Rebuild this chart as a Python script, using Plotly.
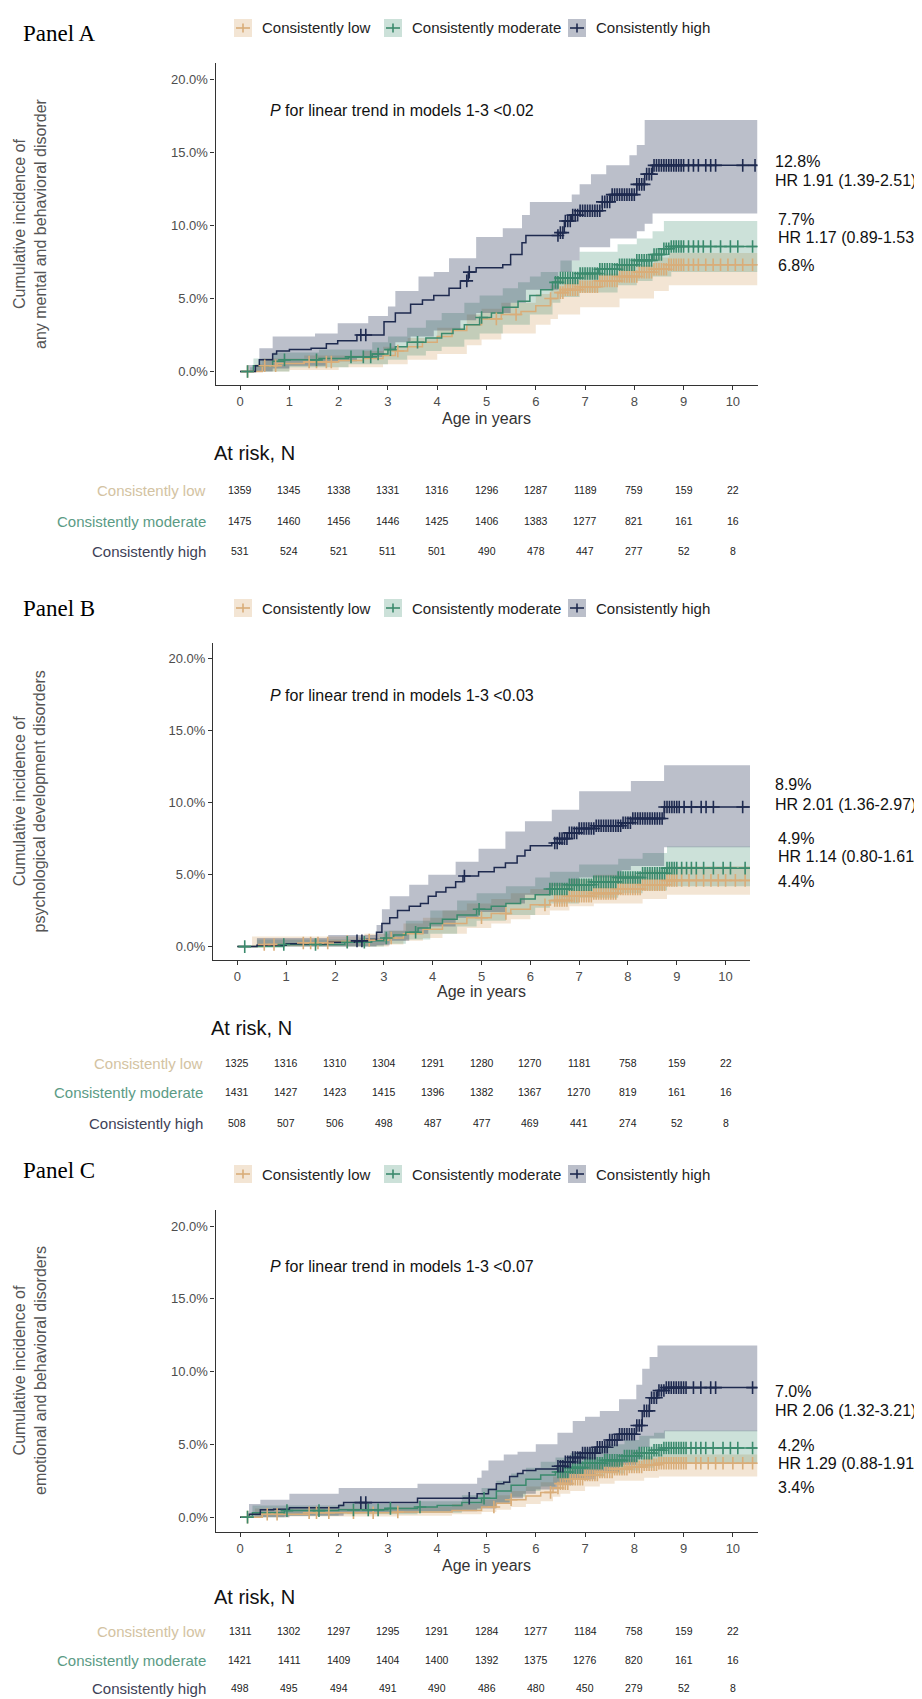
import plotly.graph_objects as go

W, H = 922, 1699

# ============================ DATA ============================
GROUPS = ["Consistently low", "Consistently moderate", "Consistently high"]
KEYS = ["low", "mod", "high"]
YEARS = [0, 1, 2, 3, 4, 5, 6, 7, 8, 9, 10]
Y_TICKS = [0, 5, 10, 15, 20]
Y_TICK_TEXT = ["0.0%", "5.0%", "10.0%", "15.0%", "20.0%"]

# heavily censored follow-up window (censoring marks nearly continuous)
DENSE = [6.5, 6.55, 6.6, 6.65, 6.7, 6.75, 6.8, 6.85, 6.9, 6.95, 7.0, 7.05, 7.1, 7.15, 7.2, 7.25, 7.3, 7.35,
         7.4, 7.45, 7.5, 7.55, 7.6, 7.65, 7.7, 7.75, 7.8, 7.85, 7.9, 7.95, 8.0, 8.05, 8.1, 8.15, 8.2, 8.25,
         8.3, 8.35, 8.4, 8.45, 8.5, 8.55, 8.6, 8.65, 8.7, 8.75, 8.8, 8.85, 8.9, 8.95, 9.0]

# ---------- Panel A: any mental and behavioral disorder ----------
A_low_t = [0, 0.45, 0.75, 1.3, 2.0, 2.5, 2.9, 3.15, 3.4, 3.7, 4.0, 4.3, 4.6, 4.9, 5.3, 5.7, 6.0, 6.3, 6.45, 6.6, 6.9, 7.3, 7.7, 8.1, 8.4, 8.7, 10.5]
A_low_v = [0, 0.4, 0.55, 0.65, 0.75, 0.9, 1.1, 1.4, 1.7, 2.0, 2.4, 2.8, 3.2, 3.6, 3.9, 4.1, 4.5, 5.0, 5.4, 5.6, 5.8, 6.2, 6.5, 6.8, 7.0, 7.3, 7.3]
A_low_up_t = [0.3, 0.45, 1.3, 2.5, 2.9, 3.4, 4.0, 4.6, 4.9, 5.3, 6.0, 6.3, 6.45, 6.9, 7.7, 8.4, 8.7, 10.5]
A_low_up_v = [0.5, 0.9, 1.1, 1.4, 1.7, 2.3, 3.0, 3.9, 4.3, 4.7, 5.3, 5.9, 6.3, 6.7, 7.3, 7.8, 8.1, 8.1]
A_low_lo_t = [0.3, 1.0, 2.0, 2.9, 3.4, 4.0, 4.6, 4.9, 5.3, 6.0, 6.3, 6.45, 6.9, 7.7, 8.4, 8.7, 10.5]
A_low_lo_v = [0.0, 0.1, 0.3, 0.5, 0.8, 1.2, 1.8, 2.2, 2.6, 3.2, 3.6, 3.9, 4.4, 5.0, 5.5, 5.9, 5.9]
A_low_cens = [0.15, 0.5, 0.72, 1.4, 1.55, 1.75, 1.85, 3.2, 5.2, 5.6, 6.3] + DENSE + [9.1, 9.2, 9.3, 9.45, 9.6, 9.75, 9.9, 10.05, 10.2, 10.4]

A_mod_t = [0, 0.27, 0.66, 0.9, 1.6, 2.2, 2.68, 3.0, 3.15, 3.39, 3.77, 4.09, 4.32, 4.55, 4.86, 5.1, 5.33, 5.64, 5.88, 6.1, 6.34, 6.5, 6.89, 7.28, 7.66, 8.05, 8.37, 8.6, 8.75, 10.5]
A_mod_v = [0, 0.4, 0.7, 0.8, 0.9, 1.0, 1.2, 1.5, 1.7, 2.0, 2.3, 2.6, 2.9, 3.2, 3.7, 4.0, 4.4, 4.8, 5.2, 5.6, 6.1, 6.4, 6.7, 7.0, 7.3, 7.6, 8.0, 8.4, 8.55, 8.55]
A_mod_up_t = [0.2, 0.27, 0.66, 1.6, 2.68, 3.0, 3.39, 3.77, 4.09, 4.55, 4.86, 5.33, 5.64, 5.88, 6.1, 6.5, 6.89, 7.66, 8.05, 8.37, 8.6, 10.5]
A_mod_up_v = [0.3, 0.9, 1.3, 1.5, 2.0, 2.4, 3.0, 3.5, 4.0, 4.7, 5.2, 5.7, 6.1, 6.5, 6.8, 7.6, 8.2, 8.7, 9.1, 9.6, 10.3, 10.3]
A_mod_lo_t = [0.2, 1.0, 2.2, 3.0, 3.39, 3.77, 4.09, 4.55, 4.86, 5.33, 5.88, 6.34, 6.5, 6.89, 7.66, 8.05, 8.37, 8.75, 10.5]
A_mod_lo_v = [0.0, 0.3, 0.5, 0.8, 1.1, 1.4, 1.7, 2.2, 2.6, 3.2, 3.9, 4.7, 5.1, 5.4, 5.9, 6.2, 6.5, 6.8, 6.8]
A_mod_cens = [0.15, 0.9, 1.55, 2.25, 2.5, 2.65, 2.8, 3.05, 3.6, 4.9, 6.4, 6.45] + DENSE + [9.1, 9.2, 9.3, 9.4, 9.55, 9.75, 9.95, 10.1, 10.4]

A_high_t = [0, 0.31, 0.39, 0.66, 0.74, 1.0, 1.44, 1.75, 1.98, 2.37, 2.92, 3.15, 3.46, 3.70, 3.93, 4.24, 4.47, 4.63, 4.79, 5.33, 5.49, 5.72, 5.80, 6.46, 6.58, 6.73, 6.89, 7.35, 7.51, 8.05, 8.21, 8.37, 10.5]
A_high_v = [0, 0.4, 0.8, 1.2, 1.4, 1.5, 1.6, 1.9, 2.1, 2.5, 3.4, 4.0, 4.6, 4.9, 5.2, 5.7, 6.2, 6.8, 7.1, 7.3, 8.0, 8.8, 9.3, 9.5, 10.3, 10.7, 11.0, 11.6, 12.1, 12.8, 13.5, 14.1, 14.1]
A_high_up_t = [0.16, 0.39, 0.66, 1.52, 1.98, 2.6, 3.0, 3.15, 3.62, 3.93, 4.24, 4.79, 5.33, 5.72, 5.88, 6.73, 6.89, 7.12, 7.43, 7.9, 8.05, 8.21, 10.5]
A_high_up_v = [0.45, 1.6, 2.4, 2.6, 3.3, 3.8, 4.45, 5.5, 6.5, 6.8, 7.75, 9.2, 9.8, 10.7, 11.6, 12.1, 12.8, 13.5, 14.1, 14.8, 15.5, 17.2, 17.2]
A_high_lo_t = [0.16, 0.66, 1.0, 1.75, 2.37, 2.92, 3.15, 3.46, 3.93, 4.47, 4.79, 5.49, 5.8, 6.46, 6.73, 6.89, 7.51, 8.05, 8.21, 8.37, 10.5]
A_high_lo_v = [0.0, 0.2, 0.4, 0.7, 1.0, 1.5, 2.0, 2.4, 2.8, 3.5, 4.0, 4.7, 5.6, 6.8, 7.6, 8.5, 9.1, 9.6, 10.1, 10.8, 10.8]
A_high_cens = [2.45, 2.55, 4.6, 4.65, 6.45] + DENSE + [9.1, 9.2, 9.3, 9.45, 9.55, 9.65, 10.2, 10.45]

A_low_n = [1359, 1345, 1338, 1331, 1316, 1296, 1287, 1189, 759, 159, 22]
A_mod_n = [1475, 1460, 1456, 1446, 1425, 1406, 1383, 1277, 821, 161, 16]
A_high_n = [531, 524, 521, 511, 501, 490, 478, 447, 277, 52, 8]

# ---------- Panel B: psychological development disorders ----------
B_low_t = [0, 0.55, 1.3, 1.9, 2.6, 3.1, 3.4, 3.8, 4.2, 4.7, 5.2, 5.6, 6.0, 6.4, 6.8, 7.3, 7.8, 8.3, 8.8, 10.5]
B_low_v = [0, 0.15, 0.25, 0.35, 0.45, 0.6, 0.9, 1.2, 1.6, 2.0, 2.3, 2.6, 2.9, 3.2, 3.5, 3.7, 4.0, 4.3, 4.6, 4.6]
B_low_up_t = [0.3, 2.6, 3.1, 3.4, 3.8, 4.2, 4.7, 5.2, 5.6, 6.0, 6.4, 6.8, 7.3, 8.3, 8.8, 10.5]
B_low_up_v = [0.7, 0.9, 1.1, 1.6, 2.0, 2.5, 3.0, 3.3, 3.7, 4.0, 4.4, 4.7, 5.0, 5.3, 5.6, 5.6]
B_low_lo_t = [0.3, 3.1, 3.4, 3.8, 4.2, 4.7, 5.2, 5.6, 6.0, 6.4, 6.8, 7.3, 8.3, 8.8, 10.5]
B_low_lo_v = [0.0, 0.15, 0.4, 0.6, 0.9, 1.3, 1.6, 1.9, 2.2, 2.5, 2.8, 3.0, 3.3, 3.6, 3.6]
B_low_cens = [0.55, 0.75, 1.35, 1.5, 1.65, 1.85, 2.25, 2.7, 3.15, 5.0, 5.5, 6.3] + DENSE + [9.1, 9.25, 9.4, 9.55, 9.7, 9.85, 10.0, 10.2, 10.4]

B_mod_t = [0, 0.95, 2.2, 2.75, 3.0, 3.2, 3.45, 3.7, 3.95, 4.2, 4.5, 4.9, 5.2, 5.5, 5.8, 6.1, 6.4, 6.8, 7.3, 7.8, 8.3, 8.8, 10.5]
B_mod_v = [0, 0.15, 0.3, 0.4, 0.6, 0.8, 1.0, 1.3, 1.6, 1.9, 2.2, 2.6, 2.8, 3.0, 3.3, 3.6, 4.0, 4.3, 4.5, 4.8, 5.1, 5.45, 5.45]
B_mod_up_t = [0.4, 2.5, 3.0, 3.45, 3.95, 4.5, 4.9, 5.5, 6.1, 6.4, 7.0, 7.8, 8.3, 8.8, 10.5]
B_mod_up_v = [0.5, 0.6, 1.1, 1.8, 2.5, 3.2, 3.7, 4.2, 4.8, 5.2, 5.7, 6.1, 6.5, 6.95, 6.95]
B_mod_lo_t = [0.4, 3.0, 3.45, 3.95, 4.5, 4.9, 5.5, 6.1, 6.4, 7.0, 7.8, 8.3, 8.8, 10.5]
B_mod_lo_v = [0.0, 0.2, 0.5, 0.9, 1.4, 1.8, 2.2, 2.7, 3.0, 3.4, 3.7, 3.9, 4.2, 4.2]
B_mod_cens = [0.15, 0.95, 1.6, 2.25, 2.6, 3.05, 3.65, 4.95, 6.4, 6.45] + DENSE + [9.1, 9.2, 9.3, 9.4, 9.55, 9.75, 9.95, 10.1, 10.4]

B_high_t = [0, 0.4, 1.0, 1.86, 2.4, 2.65, 2.85, 2.96, 3.12, 3.28, 3.52, 3.75, 3.91, 4.07, 4.27, 4.47, 4.62, 4.94, 5.26, 5.49, 5.73, 5.89, 6.0, 6.44, 6.6, 6.76, 7.0, 7.31, 7.87, 8.06, 8.74, 10.5]
B_high_v = [0, 0.1, 0.2, 0.3, 0.4, 0.5, 1.0, 1.6, 2.0, 2.5, 2.8, 3.0, 3.5, 3.8, 4.1, 4.5, 4.9, 5.2, 5.5, 5.8, 6.3, 6.7, 7.0, 7.2, 7.5, 7.9, 8.2, 8.4, 8.6, 8.9, 9.7, 9.7]
B_high_up_t = [0.4, 1.86, 2.85, 2.96, 3.12, 3.52, 3.91, 4.47, 4.94, 5.49, 5.89, 6.44, 7.0, 8.06, 8.74, 10.5]
B_high_up_v = [0.6, 0.8, 1.5, 2.6, 3.5, 4.3, 5.0, 5.9, 6.8, 8.0, 8.7, 9.5, 10.8, 11.5, 12.6, 12.6]
B_high_lo_t = [0.4, 2.85, 3.12, 3.52, 3.91, 4.47, 4.94, 5.49, 5.89, 6.44, 7.0, 7.87, 8.06, 8.74, 10.5]
B_high_lo_v = [0.0, 0.1, 0.4, 0.9, 1.4, 2.0, 2.4, 3.0, 3.6, 4.2, 4.8, 5.3, 5.6, 6.9, 6.9]
B_high_cens = [2.45, 2.55, 4.65] + DENSE + [9.05, 9.15, 9.3, 9.5, 9.6, 9.75, 10.35]

B_low_n = [1325, 1316, 1310, 1304, 1291, 1280, 1270, 1181, 758, 159, 22]
B_mod_n = [1431, 1427, 1423, 1415, 1396, 1382, 1367, 1270, 819, 161, 16]
B_high_n = [508, 507, 506, 498, 487, 477, 469, 441, 274, 52, 8]

# ---------- Panel C: emotional and behavioral disorders ----------
C_low_t = [0, 0.45, 1.4, 3.2, 4.3, 4.9, 5.2, 5.5, 5.8, 6.1, 6.35, 6.5, 6.7, 7.0, 7.3, 7.6, 7.9, 8.2, 8.5, 10.5]
C_low_v = [0, 0.2, 0.3, 0.35, 0.45, 0.7, 0.95, 1.2, 1.45, 1.7, 2.0, 2.3, 2.6, 2.9, 3.1, 3.3, 3.45, 3.6, 3.7, 3.7]
C_low_up_t = [0.3, 3.2, 4.3, 4.9, 5.2, 5.5, 5.8, 6.1, 6.35, 6.5, 6.7, 7.0, 7.3, 7.6, 8.2, 8.5, 10.5]
C_low_up_v = [0.6, 0.7, 0.9, 1.2, 1.5, 1.8, 2.1, 2.4, 2.8, 3.1, 3.4, 3.6, 3.8, 4.0, 4.2, 4.3, 4.3]
C_low_lo_t = [0.3, 1.0, 3.2, 4.3, 4.9, 5.2, 5.5, 5.8, 6.1, 6.35, 6.5, 6.7, 7.0, 7.3, 7.6, 8.2, 8.5, 10.5]
C_low_lo_v = [0.0, 0.05, 0.1, 0.2, 0.35, 0.5, 0.7, 0.9, 1.1, 1.4, 1.6, 1.8, 2.1, 2.3, 2.5, 2.7, 2.8, 2.8]
C_low_cens = [0.15, 0.55, 0.75, 1.4, 1.55, 1.8, 2.3, 2.7, 3.2, 5.15, 5.5, 6.3, 6.45] + DENSE + [9.05, 9.25, 9.35, 9.5, 9.65, 9.8, 10.0, 10.2, 10.4]

C_mod_t = [0, 0.25, 0.9, 2.0, 3.0, 3.6, 4.0, 4.5, 4.9, 5.2, 5.5, 5.8, 6.1, 6.4, 6.7, 7.0, 7.4, 7.8, 8.1, 8.4, 8.6, 10.5]
C_mod_v = [0, 0.3, 0.45, 0.5, 0.6, 0.7, 0.8, 1.0, 1.3, 1.8, 2.2, 2.6, 2.9, 3.1, 3.4, 3.7, 3.9, 4.2, 4.4, 4.6, 4.75, 4.75]
C_mod_up_t = [0.2, 0.25, 2.0, 3.6, 4.5, 4.9, 5.2, 5.5, 5.8, 6.1, 6.4, 6.7, 7.0, 7.4, 7.8, 8.1, 8.4, 8.6, 10.5]
C_mod_up_v = [0.3, 0.8, 0.9, 1.1, 1.5, 2.0, 2.5, 3.0, 3.4, 3.8, 4.1, 4.4, 4.7, 5.0, 5.3, 5.6, 5.8, 5.95, 5.95]
C_mod_lo_t = [0.2, 0.9, 2.0, 3.6, 4.5, 4.9, 5.2, 5.5, 5.8, 6.1, 6.4, 6.7, 7.0, 7.4, 7.8, 8.1, 8.4, 8.6, 10.5]
C_mod_lo_v = [0.0, 0.1, 0.2, 0.3, 0.5, 0.7, 1.0, 1.4, 1.8, 2.1, 2.3, 2.6, 2.8, 3.0, 3.2, 3.4, 3.6, 3.7, 3.7]
C_mod_cens = [0.15, 0.95, 1.6, 2.3, 2.6, 2.8, 3.05, 3.65, 4.95, 6.45] + DENSE + [9.05, 9.15, 9.25, 9.35, 9.45, 9.6, 9.8, 9.95, 10.1, 10.4]

C_high_t = [0, 0.18, 0.41, 0.68, 1.0, 2.0, 2.1, 3.6, 4.81, 5.04, 5.2, 5.35, 5.47, 5.63, 5.74, 6.0, 6.44, 6.6, 6.75, 6.91, 7.22, 7.46, 7.69, 8.04, 8.16, 8.31, 8.47, 8.62, 10.5]
C_high_v = [0, 0.2, 0.5, 0.55, 0.65, 0.8, 1.0, 1.3, 1.6, 1.9, 2.3, 2.4, 2.8, 3.0, 3.2, 3.3, 3.5, 3.8, 4.1, 4.4, 4.8, 5.3, 5.7, 6.3, 7.3, 8.2, 8.7, 8.9, 8.9]
C_high_up_t = [0.18, 0.41, 1.0, 2.0, 3.6, 4.81, 4.9, 5.04, 5.35, 5.63, 6.0, 6.44, 6.75, 7.0, 7.3, 7.69, 8.04, 8.16, 8.31, 8.47, 10.5]
C_high_up_v = [0.9, 1.2, 1.6, 2.0, 2.3, 2.7, 3.2, 3.9, 4.3, 4.5, 5.0, 5.8, 6.6, 6.9, 7.3, 8.1, 9.1, 10.2, 11.0, 11.8, 11.8]
C_high_lo_t = [0.18, 1.0, 2.1, 3.6, 4.81, 5.2, 5.47, 5.74, 6.0, 6.44, 6.75, 7.22, 7.69, 8.04, 8.16, 8.31, 8.62, 10.5]
C_high_lo_v = [0.0, 0.1, 0.3, 0.4, 0.6, 0.9, 1.3, 1.6, 1.9, 2.2, 2.6, 3.1, 3.6, 4.0, 4.8, 5.4, 5.9, 5.9]
C_high_cens = [2.45, 2.55, 4.65, 6.45] + DENSE + [9.05, 9.2, 9.35, 9.55, 9.65, 10.4]

C_low_n = [1311, 1302, 1297, 1295, 1291, 1284, 1277, 1184, 758, 159, 22]
C_mod_n = [1421, 1411, 1409, 1404, 1400, 1392, 1375, 1276, 820, 161, 16]
C_high_n = [498, 495, 494, 491, 490, 486, 480, 450, 279, 52, 8]

# Text pieces
A_ytitle = "Cumulative incidence of<br>any mental and behavioral disorder"
B_ytitle = "Cumulative incidence of<br>psychological development disorders"
C_ytitle = "Cumulative incidence of<br>emotional and behavioral disorders"
A_ptext = "<i>P</i> for linear trend in models 1-3 &lt;0.02"
B_ptext = "<i>P</i> for linear trend in models 1-3 &lt;0.03"
C_ptext = "<i>P</i> for linear trend in models 1-3 &lt;0.07"
A_right = ["12.8%", "HR 1.91 (1.39-2.51)", "7.7%", "HR 1.17 (0.89-1.53)", "6.8%"]
B_right = ["8.9%", "HR 2.01 (1.36-2.97)", "4.9%", "HR 1.14 (0.80-1.61)", "4.4%"]
C_right = ["7.0%", "HR 2.06 (1.32-3.21)", "4.2%", "HR 1.29 (0.88-1.91)", "3.4%"]

# ============================ STYLE / LAYOUT ============================
LINE_COL = {"low": "#D9AD79", "mod": "#3B8A6D", "high": "#1E2A4F"}
BAND_COL = {"low": "rgba(217,173,121,0.32)", "mod": "rgba(59,138,109,0.26)", "high": "rgba(30,42,79,0.30)"}
LAB_COL = {"low": "#D3C3A2", "mod": "#5B9B85", "high": "#3D4156"}
SANS = "Liberation Sans, Arial, sans-serif"
SERIF = "Liberation Serif, Times New Roman, serif"


def px(x):
    return x / W


def py(y):
    return 1 - y / H


PANELS = [
    dict(tag="A", xa="x", ya="y", xd=(207.5, 749.5), yd=(55, 377), yr=[-0.92, 21.1],
         label_y=25, legend_y=20, p_y=103, age_y=410, atrisk=(204, 445), rows=[482, 513, 543], rowlab_x=200,
         right_y=[153, 173, 211, 230, 257], right_x=[765, 765, 768, 768, 768],
         ytitle=A_ytitle, ptext=A_ptext, right=A_right,
         series={
             "low": (A_low_t, A_low_v, A_low_lo_t, A_low_lo_v, A_low_up_t, A_low_up_v, A_low_cens, A_low_n),
             "mod": (A_mod_t, A_mod_v, A_mod_lo_t, A_mod_lo_v, A_mod_up_t, A_mod_up_v, A_mod_cens, A_mod_n),
             "high": (A_high_t, A_high_v, A_high_lo_t, A_high_lo_v, A_high_up_t, A_high_up_v, A_high_cens, A_high_n),
         }),
    dict(tag="B", xa="x2", ya="y2", xd=(205, 742), yd=(635, 952), yr=[-0.93, 21.09],
         label_y=600, legend_y=600, p_y=687, age_y=984, atrisk=(201, 1020), rows=[1055, 1084, 1115], rowlab_x=197,
         right_y=[776, 796, 830, 849, 874], right_x=[765, 765, 768, 768, 768],
         ytitle=B_ytitle, ptext=B_ptext, right=B_right,
         series={
             "low": (B_low_t, B_low_v, B_low_lo_t, B_low_lo_v, B_low_up_t, B_low_up_v, B_low_cens, B_low_n),
             "mod": (B_mod_t, B_mod_v, B_mod_lo_t, B_mod_lo_v, B_mod_up_t, B_mod_up_v, B_mod_cens, B_mod_n),
             "high": (B_high_t, B_high_v, B_high_lo_t, B_high_lo_v, B_high_up_t, B_high_up_v, B_high_cens, B_high_n),
         }),
    dict(tag="C", xa="x3", ya="y3", xd=(207.5, 749.5), yd=(1202, 1524), yr=[-1.02, 21.1],
         label_y=1162, legend_y=1166, p_y=1258, age_y=1557, atrisk=(204, 1589), rows=[1623, 1652, 1680], rowlab_x=200,
         right_y=[1383, 1402, 1437, 1455, 1479], right_x=[765, 765, 768, 768, 768],
         ytitle=C_ytitle, ptext=C_ptext, right=C_right,
         series={
             "low": (C_low_t, C_low_v, C_low_lo_t, C_low_lo_v, C_low_up_t, C_low_up_v, C_low_cens, C_low_n),
             "mod": (C_mod_t, C_mod_v, C_mod_lo_t, C_mod_lo_v, C_mod_up_t, C_mod_up_v, C_mod_cens, C_mod_n),
             "high": (C_high_t, C_high_v, C_high_lo_t, C_high_lo_v, C_high_up_t, C_high_up_v, C_high_cens, C_high_n),
         }),
]

LEGEND_BOX_X = [226, 376, 560]


def step_at(ts, vs, t):
    v = vs[0]
    for ti, vi in zip(ts, vs):
        if ti <= t:
            v = vi
        else:
            break
    return v


fig = go.Figure()
annotations = []
shapes = []

for P in PANELS:
    xa, ya = P["xa"], P["ya"]
    # confidence bands
    for k in KEYS:
        t, v, lo_t, lo_v, up_t, up_v, cens, n = P["series"][k]
        fig.add_trace(go.Scatter(x=lo_t, y=lo_v, mode="lines", line=dict(width=0, shape="hv"),
                                 xaxis=xa, yaxis=ya, showlegend=False, hoverinfo="skip"))
        fig.add_trace(go.Scatter(x=up_t, y=up_v, mode="lines", line=dict(width=0, shape="hv"),
                                 fill="tonexty", fillcolor=BAND_COL[k],
                                 xaxis=xa, yaxis=ya, showlegend=False, hoverinfo="skip"))
    # step curves
    for k, g in zip(KEYS, GROUPS):
        t, v, lo_t, lo_v, up_t, up_v, cens, n = P["series"][k]
        fig.add_trace(go.Scatter(x=t, y=v, mode="lines", name=g,
                                 line=dict(color=LINE_COL[k], width=1.5, shape="hv"),
                                 xaxis=xa, yaxis=ya, showlegend=False))
    # censoring marks
    for k in KEYS:
        t, v, lo_t, lo_v, up_t, up_v, cens, n = P["series"][k]
        cy = [step_at(t, v, c) for c in cens]
        fig.add_trace(go.Scatter(x=cens, y=cy, mode="markers",
                                 marker=dict(symbol="cross-thin", size=9,
                                             line=dict(color=LINE_COL[k], width=1.6)),
                                 xaxis=xa, yaxis=ya, showlegend=False, hoverinfo="skip"))

    # axes
    axis_common = dict(showgrid=False, zeroline=False, showline=True, linecolor="#333333", linewidth=1.1,
                       ticks="outside", ticklen=4, tickwidth=1, tickcolor="#333333",
                       tickfont=dict(family=SANS, size=13, color="#4D4D4D"), fixedrange=True)
    xname = "xaxis" if xa == "x" else "xaxis" + xa[1:]
    yname = "yaxis" if ya == "y" else "yaxis" + ya[1:]
    fig.update_layout(**{
        xname: dict(domain=[px(P["xd"][0]), px(P["xd"][1])], range=[-0.5, 10.5],
                    tickvals=YEARS, anchor=ya, **axis_common),
        yname: dict(domain=[py(P["yd"][1]), py(P["yd"][0])], range=P["yr"],
                    tickvals=Y_TICKS, ticktext=Y_TICK_TEXT, anchor=xa, **axis_common),
    })

    # panel label
    annotations.append(dict(x=px(13), y=py(P["label_y"]), xref="paper", yref="paper", text="Panel " + P["tag"],
                            showarrow=False, xanchor="left", yanchor="middle",
                            font=dict(family=SERIF, size=23, color="#000000")))
    # legend (ggplot-style keys: shaded square with a "+" line)
    ly = P["legend_y"]
    for bx, k, g in zip(LEGEND_BOX_X, KEYS, GROUPS):
        shapes.append(dict(type="rect", xref="paper", yref="paper", x0=px(bx), x1=px(bx + 18),
                           y0=py(ly + 9), y1=py(ly - 9), fillcolor=BAND_COL[k], line=dict(width=0)))
        shapes.append(dict(type="line", xref="paper", yref="paper", x0=px(bx + 2), x1=px(bx + 16),
                           y0=py(ly), y1=py(ly), line=dict(color=LINE_COL[k], width=1.6)))
        shapes.append(dict(type="line", xref="paper", yref="paper", x0=px(bx + 9), x1=px(bx + 9),
                           y0=py(ly - 4.5), y1=py(ly + 4.5), line=dict(color=LINE_COL[k], width=1.6)))
        annotations.append(dict(x=px(bx + 26), y=py(ly), xref="paper", yref="paper", text=g,
                                showarrow=False, xanchor="left", yanchor="middle",
                                font=dict(family=SANS, size=15, color="#222222")))
    # y title
    annotations.append(dict(x=px(22), y=py((P["yd"][0] + P["yd"][1]) / 2), xref="paper", yref="paper",
                            text=P["ytitle"], textangle=-90, showarrow=False,
                            xanchor="center", yanchor="middle",
                            font=dict(family=SANS, size=16, color="#555555")))
    # P text
    annotations.append(dict(x=px(260), y=py(P["p_y"]), xref="paper", yref="paper", text=P["ptext"],
                            showarrow=False, xanchor="left", yanchor="middle",
                            font=dict(family=SANS, size=16, color="#111111")))
    # x title
    annotations.append(dict(x=px((P["xd"][0] + P["xd"][1]) / 2), y=py(P["age_y"]), xref="paper", yref="paper",
                            text="Age in years", showarrow=False, xanchor="center", yanchor="middle",
                            font=dict(family=SANS, size=16, color="#333333")))
    # right-hand estimates
    for txt, rx, ry in zip(P["right"], P["right_x"], P["right_y"]):
        annotations.append(dict(x=px(rx), y=py(ry), xref="paper", yref="paper", text=txt,
                                showarrow=False, xanchor="left", yanchor="middle",
                                font=dict(family=SANS, size=16, color="#111111")))
    # risk table
    annotations.append(dict(x=px(P["atrisk"][0]), y=py(P["atrisk"][1]), xref="paper", yref="paper",
                            text="At risk, N", showarrow=False, xanchor="left", yanchor="middle",
                            font=dict(family=SANS, size=20, color="#111111")))
    for k, g, ry in zip(KEYS, GROUPS, P["rows"]):
        n = P["series"][k][7]
        annotations.append(dict(x=px(P["rowlab_x"]), y=py(ry), xref="paper", yref="paper", text=g,
                                showarrow=False, xanchor="right", yanchor="middle",
                                font=dict(family=SANS, size=15, color=LAB_COL[k])))
        for yr_, val in zip(YEARS, n):
            annotations.append(dict(x=yr_, y=py(ry), xref=xa, yref="paper", text=str(val),
                                    showarrow=False, xanchor="center", yanchor="middle",
                                    font=dict(family=SANS, size=10.5, color="#222222")))

fig.update_layout(width=W, height=H, margin=dict(l=0, r=0, t=0, b=0),
                  paper_bgcolor="white", plot_bgcolor="white", showlegend=False,
                  annotations=annotations, shapes=shapes)

fig.write_html("out.html")
